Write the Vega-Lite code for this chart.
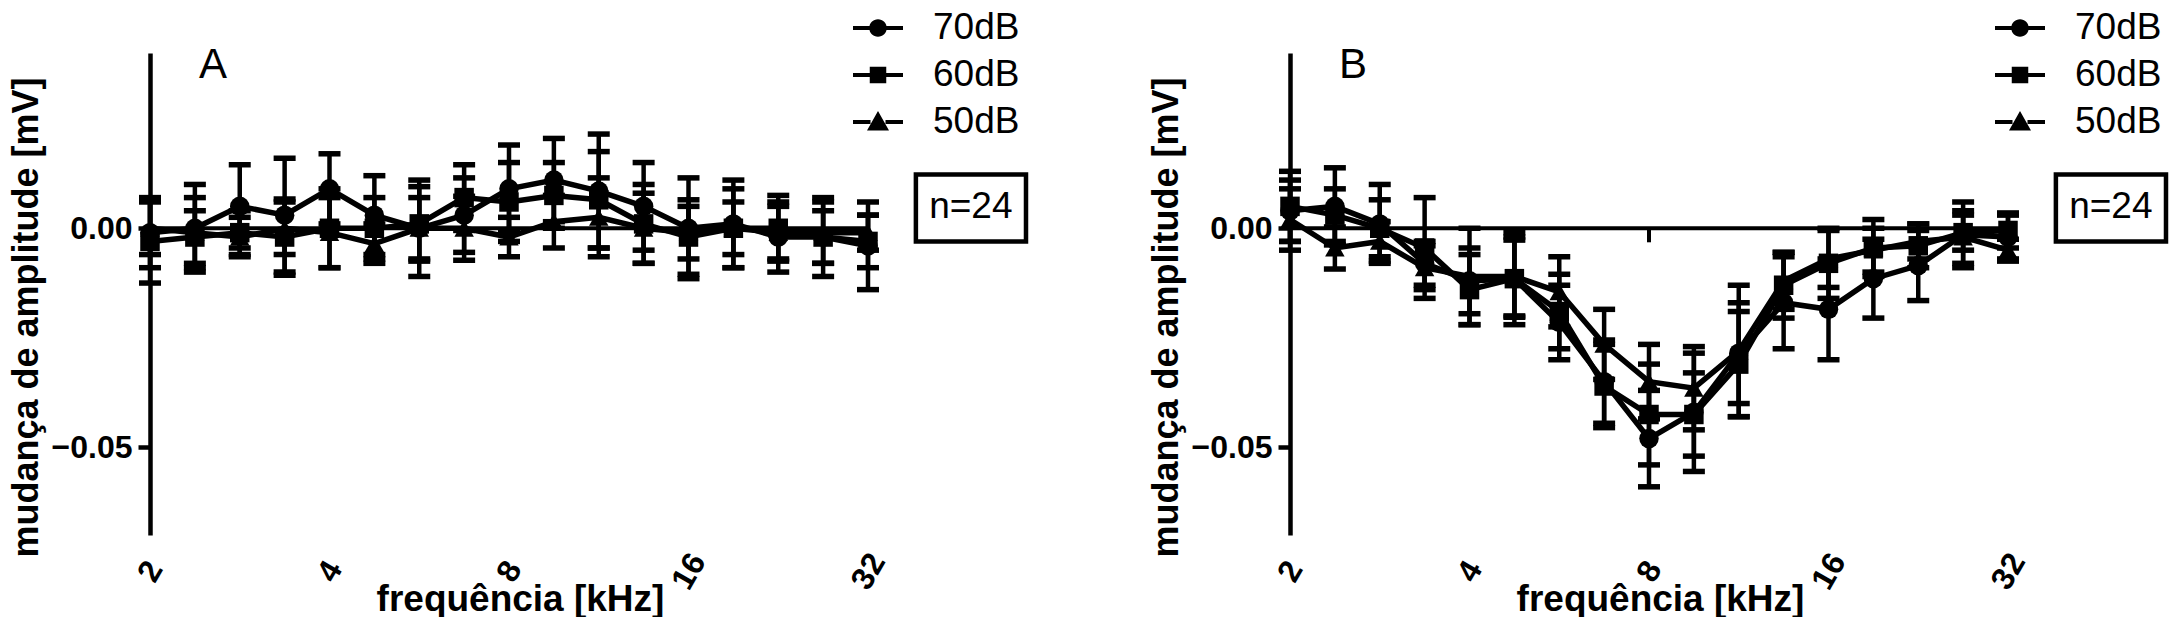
{
  "$schema": "https://vega.github.io/schema/vega-lite/v6.json",
  "background": "white",
  "padding": {"left": 8, "top": 3, "right": 5, "bottom": 0},
  "spacing": 119,
  "datasets": {
    "A": [
      {"f": 2, "s": "70dB", "v": -0.001, "e": 0.008}, {"f": 2, "s": "60dB", "v": -0.003, "e": 0.0095}, {"f": 2, "s": "50dB", "v": 0.0, "e": 0.006},
      {"f": 2.3784, "s": "70dB", "v": 0.0, "e": 0.010}, {"f": 2.3784, "s": "60dB", "v": -0.002, "e": 0.006}, {"f": 2.3784, "s": "50dB", "v": -0.001, "e": 0.008},
      {"f": 2.8284, "s": "70dB", "v": 0.005, "e": 0.0095}, {"f": 2.8284, "s": "60dB", "v": -0.001, "e": 0.005}, {"f": 2.8284, "s": "50dB", "v": -0.002, "e": 0.0045},
      {"f": 3.3636, "s": "70dB", "v": 0.003, "e": 0.013}, {"f": 3.3636, "s": "60dB", "v": -0.002, "e": 0.0087}, {"f": 3.3636, "s": "50dB", "v": 0.0, "e": 0.006},
      {"f": 4, "s": "70dB", "v": 0.009, "e": 0.008}, {"f": 4, "s": "60dB", "v": 0.0, "e": 0.009}, {"f": 4, "s": "50dB", "v": -0.001, "e": 0.008},
      {"f": 4.7568, "s": "70dB", "v": 0.003, "e": 0.009}, {"f": 4.7568, "s": "60dB", "v": 0.0, "e": 0.007}, {"f": 4.7568, "s": "50dB", "v": -0.0035, "e": 0.0045},
      {"f": 5.6569, "s": "70dB", "v": 0.0, "e": 0.011}, {"f": 5.6569, "s": "60dB", "v": 0.001, "e": 0.0085}, {"f": 5.6569, "s": "50dB", "v": 0.0, "e": 0.007},
      {"f": 6.7272, "s": "70dB", "v": 0.003, "e": 0.0085}, {"f": 6.7272, "s": "60dB", "v": 0.007, "e": 0.0075}, {"f": 6.7272, "s": "50dB", "v": 0.0, "e": 0.0073},
      {"f": 8, "s": "70dB", "v": 0.009, "e": 0.010}, {"f": 8, "s": "60dB", "v": 0.006, "e": 0.009}, {"f": 8, "s": "50dB", "v": -0.002, "e": 0.0045},
      {"f": 9.5137, "s": "70dB", "v": 0.011, "e": 0.0095}, {"f": 9.5137, "s": "60dB", "v": 0.0075, "e": 0.0075}, {"f": 9.5137, "s": "50dB", "v": 0.0015, "e": 0.006},
      {"f": 11.3137, "s": "70dB", "v": 0.0085, "e": 0.013}, {"f": 11.3137, "s": "60dB", "v": 0.0065, "e": 0.011}, {"f": 11.3137, "s": "50dB", "v": 0.0025, "e": 0.009},
      {"f": 13.4543, "s": "70dB", "v": 0.005, "e": 0.010}, {"f": 13.4543, "s": "60dB", "v": 0.001, "e": 0.009}, {"f": 13.4543, "s": "50dB", "v": 0.0, "e": 0.008},
      {"f": 16, "s": "70dB", "v": 0.0, "e": 0.0115}, {"f": 16, "s": "60dB", "v": -0.002, "e": 0.0085}, {"f": 16, "s": "50dB", "v": -0.001, "e": 0.006},
      {"f": 19.0273, "s": "70dB", "v": 0.001, "e": 0.010}, {"f": 19.0273, "s": "60dB", "v": 0.0, "e": 0.009}, {"f": 19.0273, "s": "50dB", "v": 0.0, "e": 0.006},
      {"f": 22.6274, "s": "70dB", "v": -0.002, "e": 0.008}, {"f": 22.6274, "s": "60dB", "v": 0.0, "e": 0.0075}, {"f": 22.6274, "s": "50dB", "v": -0.001, "e": 0.006},
      {"f": 26.9087, "s": "70dB", "v": -0.002, "e": 0.009}, {"f": 26.9087, "s": "60dB", "v": -0.002, "e": 0.006}, {"f": 26.9087, "s": "50dB", "v": -0.001, "e": 0.007},
      {"f": 32, "s": "70dB", "v": -0.004, "e": 0.010}, {"f": 32, "s": "60dB", "v": -0.003, "e": 0.006}, {"f": 32, "s": "50dB", "v": -0.001, "e": 0.004}
    ],
    "B": [
      {"f": 2, "s": "70dB", "v": 0.004, "e": 0.007}, {"f": 2, "s": "60dB", "v": 0.005, "e": 0.008}, {"f": 2, "s": "50dB", "v": 0.002, "e": 0.007},
      {"f": 2.3784, "s": "70dB", "v": 0.005, "e": 0.0088}, {"f": 2.3784, "s": "60dB", "v": 0.003, "e": 0.006}, {"f": 2.3784, "s": "50dB", "v": -0.0045, "e": 0.0048},
      {"f": 2.8284, "s": "70dB", "v": 0.001, "e": 0.009}, {"f": 2.8284, "s": "60dB", "v": 0.0, "e": 0.0065}, {"f": 2.8284, "s": "50dB", "v": -0.003, "e": 0.0045},
      {"f": 3.3636, "s": "70dB", "v": -0.008, "e": 0.005}, {"f": 3.3636, "s": "60dB", "v": -0.0045, "e": 0.0115}, {"f": 3.3636, "s": "50dB", "v": -0.009, "e": 0.005},
      {"f": 4, "s": "70dB", "v": -0.012, "e": 0.0075}, {"f": 4, "s": "60dB", "v": -0.014, "e": 0.008}, {"f": 4, "s": "50dB", "v": -0.011, "e": 0.011},
      {"f": 4.7568, "s": "70dB", "v": -0.0115, "e": 0.0088}, {"f": 4.7568, "s": "60dB", "v": -0.0115, "e": 0.0105}, {"f": 4.7568, "s": "50dB", "v": -0.011, "e": 0.009},
      {"f": 5.6569, "s": "70dB", "v": -0.0215, "e": 0.0085}, {"f": 5.6569, "s": "60dB", "v": -0.019, "e": 0.0085}, {"f": 5.6569, "s": "50dB", "v": -0.0145, "e": 0.008},
      {"f": 6.7272, "s": "70dB", "v": -0.035, "e": 0.0095}, {"f": 6.7272, "s": "60dB", "v": -0.036, "e": 0.0095}, {"f": 6.7272, "s": "50dB", "v": -0.0265, "e": 0.008},
      {"f": 8, "s": "70dB", "v": -0.048, "e": 0.011}, {"f": 8, "s": "60dB", "v": -0.0425, "e": 0.0115}, {"f": 8, "s": "50dB", "v": -0.035, "e": 0.0085},
      {"f": 9.5137, "s": "70dB", "v": -0.042, "e": 0.0135}, {"f": 9.5137, "s": "60dB", "v": -0.0425, "e": 0.0095}, {"f": 9.5137, "s": "50dB", "v": -0.0365, "e": 0.0095},
      {"f": 11.3137, "s": "70dB", "v": -0.0285, "e": 0.0115}, {"f": 11.3137, "s": "60dB", "v": -0.031, "e": 0.012}, {"f": 11.3137, "s": "50dB", "v": -0.028, "e": 0.015},
      {"f": 13.4543, "s": "70dB", "v": -0.017, "e": 0.0105}, {"f": 13.4543, "s": "60dB", "v": -0.013, "e": 0.0075}, {"f": 13.4543, "s": "50dB", "v": -0.012, "e": 0.0065},
      {"f": 16, "s": "70dB", "v": -0.0185, "e": 0.0115}, {"f": 16, "s": "60dB", "v": -0.008, "e": 0.008}, {"f": 16, "s": "50dB", "v": -0.007, "e": 0.0065},
      {"f": 19.0273, "s": "70dB", "v": -0.0115, "e": 0.009}, {"f": 19.0273, "s": "60dB", "v": -0.0045, "e": 0.0065}, {"f": 19.0273, "s": "50dB", "v": -0.005, "e": 0.005},
      {"f": 22.6274, "s": "70dB", "v": -0.0085, "e": 0.008}, {"f": 22.6274, "s": "60dB", "v": -0.004, "e": 0.005}, {"f": 22.6274, "s": "50dB", "v": -0.003, "e": 0.004},
      {"f": 26.9087, "s": "70dB", "v": -0.0015, "e": 0.0075}, {"f": 26.9087, "s": "60dB", "v": -0.001, "e": 0.004}, {"f": 26.9087, "s": "50dB", "v": -0.002, "e": 0.006},
      {"f": 32, "s": "70dB", "v": -0.002, "e": 0.005}, {"f": 32, "s": "60dB", "v": -0.0005, "e": 0.004}, {"f": 32, "s": "50dB", "v": -0.005, "e": 0.0025}
    ]
  },
  "hconcat": [
    {
      "width": 718, "height": 482,
      "data": {"name": "A"},
      "encoding": {
        "x": {"field": "f", "type": "quantitative",
          "scale": {"type": "log", "base": 2, "domain": [2, 32], "nice": false},
          "axis": {"values": [2, 4, 8, 16, 32], "format": "d", "domain": false, "ticks": false, "tickSize": 0, "grid": false,
            "labelAngle": -60, "labelAlign": "center", "labelBaseline": "middle", "labelPadding": 36, "labelFontSize": 32, "labelFontWeight": "bold",
            "labelColor": "black", "labelFlush": false, "labelOverlap": false,
            "title": "frequência  [kHz]", "titleFontSize": 37, "titleFontWeight": "bold", "titleColor": "black",
            "titleX": 370, "titleY": 46, "titleBaseline": "top", "titleAlign": "center"}},
        "y": {"field": "v", "type": "quantitative",
          "scale": {"domain": [-0.07, 0.04], "nice": false, "zero": false},
          "axis": {"values": [-0.05, 0], "format": ".2f", "grid": false, "domainColor": "black", "domainWidth": 4.5,
            "tickColor": "black", "tickWidth": 4.5, "tickSize": 12, "labelPadding": 6, "labelFontSize": 32, "labelFontWeight": "bold", "labelColor": "black",
            "title": "mudança de amplitude [mV]", "titleFontSize": 36, "titleFontWeight": "bold", "titleColor": "black", "titlePadding": 6, "titleY": 264}}
      },
      "layer": [
        {"data": {"values": [{"z": 0}]}, "mark": {"type": "rule", "color": "black", "strokeWidth": 4}, "encoding": {"y": {"field": "z", "type": "quantitative"}, "x": null}},
        {"mark": {"type": "line", "color": "black", "strokeWidth": 5.5}, "encoding": {"detail": {"field": "s"}}},
        {"mark": {"type": "errorbar", "color": "black", "opacity": 1, "ticks": {"size": 22, "thickness": 5.5, "opacity": 1, "color": "black"}, "rule": {"strokeWidth": 4.5, "opacity": 1, "color": "black"}}, "encoding": {"yError": {"field": "e"}}},
        {"layer": [
          {"mark": {"type": "point", "filled": true, "color": "black", "opacity": 1, "size": 380},
            "encoding": {"shape": {"field": "s", "type": "nominal",
              "scale": {"domain": ["70dB", "60dB", "50dB"], "range": ["circle", "square", "triangle-up"]}, "legend": null}}},
          {"mark": {"type": "point", "filled": true, "color": "black", "opacity": 0, "size": 380},
            "encoding": {"shape": {"field": "s", "type": "nominal",
              "scale": {"domain": ["70dB", "60dB", "50dB"], "range": [
                "M-1,-0.08H-0.3V0.08H-1ZM0.3,-0.08H1V0.08H0.3ZM0.35,0A0.35,0.35,0,1,1,-0.35,0A0.35,0.35,0,1,1,0.35,0Z",
                "M-1,-0.08H-0.3V0.08H-1ZM0.3,-0.08H1V0.08H0.3ZM-0.33,-0.33H0.33V0.33H-0.33Z",
                "M-1,-0.08H-0.3V0.08H-1ZM0.3,-0.08H1V0.08H0.3ZM0,-0.44L0.44,0.34H-0.44Z"]},
              "legend": {"orient": "none", "legendX": 703, "legendY": -50, "title": null, "padding": 0, "symbolSize": 2500, "symbolStrokeWidth": 0,
                "symbolFillColor": "black", "symbolOpacity": 1, "labelFontSize": 37, "labelColor": "black", "labelOffset": 30, "rowPadding": 4, "labelLimit": 0,
                "encode": {"symbols": {"update": {"opacity": {"value": 1}, "fill": {"value": "black"}}}}}}}}
          ],
          "resolve": {"scale": {"shape": "independent"}, "legend": {"shape": "independent"}}
        },
        {"data": {"values": [{"lab": "A", "fx": 2.55, "vy": 0.0372}]}, "mark": {"type": "text", "fontSize": 42, "color": "black", "align": "center", "baseline": "middle"},
          "encoding": {"x": {"field": "fx", "type": "quantitative"}, "y": {"field": "vy", "type": "quantitative"}, "text": {"field": "lab"}}},
        {"data": {"values": [{"x1": 38.5, "x2": 58.9, "y1": 0.0123, "y2": -0.003, "lab": "n=24", "fx": 47.6, "vy": 0.0048}]},
          "layer": [
            {"mark": {"type": "rect", "fill": null, "stroke": "black", "strokeWidth": 4.5},
              "encoding": {"x": {"field": "x1", "type": "quantitative"}, "x2": {"field": "x2"}, "y": {"field": "y1", "type": "quantitative"}, "y2": {"field": "y2"}}},
            {"mark": {"type": "text", "fontSize": 37, "color": "black", "align": "center", "baseline": "middle"},
              "encoding": {"x": {"field": "fx", "type": "quantitative"}, "y": {"field": "vy", "type": "quantitative"}, "text": {"field": "lab"}}}
          ]}
      ]
    },
    {
      "width": 718, "height": 482,
      "data": {"name": "B"},
      "encoding": {
        "x": {"field": "f", "type": "quantitative",
          "scale": {"type": "log", "base": 2, "domain": [2, 32], "nice": false},
          "axis": {"values": [2, 4, 8, 16, 32], "format": "d", "domain": false, "ticks": false, "tickSize": 0, "grid": false,
            "labelAngle": -60, "labelAlign": "center", "labelBaseline": "middle", "labelPadding": 36, "labelFontSize": 32, "labelFontWeight": "bold",
            "labelColor": "black", "labelFlush": false, "labelOverlap": false,
            "title": "frequência [kHz]", "titleFontSize": 37, "titleFontWeight": "bold", "titleColor": "black",
            "titleX": 370, "titleY": 46, "titleBaseline": "top", "titleAlign": "center"}},
        "y": {"field": "v", "type": "quantitative",
          "scale": {"domain": [-0.07, 0.04], "nice": false, "zero": false},
          "axis": {"values": [-0.05, 0], "format": ".2f", "grid": false, "domainColor": "black", "domainWidth": 4.5,
            "tickColor": "black", "tickWidth": 4.5, "tickSize": 12, "labelPadding": 6, "labelFontSize": 32, "labelFontWeight": "bold", "labelColor": "black",
            "title": "mudança de amplitude  [mV]", "titleFontSize": 36, "titleFontWeight": "bold", "titleColor": "black", "titlePadding": 6, "titleY": 264}}
      },
      "layer": [
        {"data": {"values": [{"z": 0}]}, "mark": {"type": "rule", "color": "black", "strokeWidth": 4}, "encoding": {"y": {"field": "z", "type": "quantitative"}, "x": null}},
        {"data": {"values": [{"tf": 8, "a": 0, "b": -0.0032}]}, "mark": {"type": "rule", "color": "black", "strokeWidth": 4},
          "encoding": {"x": {"field": "tf", "type": "quantitative"}, "y": {"field": "a", "type": "quantitative"}, "y2": {"field": "b"}}},
        {"mark": {"type": "line", "color": "black", "strokeWidth": 5.5}, "encoding": {"detail": {"field": "s"}}},
        {"mark": {"type": "errorbar", "color": "black", "opacity": 1, "ticks": {"size": 22, "thickness": 5.5, "opacity": 1, "color": "black"}, "rule": {"strokeWidth": 4.5, "opacity": 1, "color": "black"}}, "encoding": {"yError": {"field": "e"}}},
        {"layer": [
          {"mark": {"type": "point", "filled": true, "color": "black", "opacity": 1, "size": 380},
            "encoding": {"shape": {"field": "s", "type": "nominal",
              "scale": {"domain": ["70dB", "60dB", "50dB"], "range": ["circle", "square", "triangle-up"]}, "legend": null}}},
          {"mark": {"type": "point", "filled": true, "color": "black", "opacity": 0, "size": 380},
            "encoding": {"shape": {"field": "s", "type": "nominal",
              "scale": {"domain": ["70dB", "60dB", "50dB"], "range": [
                "M-1,-0.08H-0.3V0.08H-1ZM0.3,-0.08H1V0.08H0.3ZM0.35,0A0.35,0.35,0,1,1,-0.35,0A0.35,0.35,0,1,1,0.35,0Z",
                "M-1,-0.08H-0.3V0.08H-1ZM0.3,-0.08H1V0.08H0.3ZM-0.33,-0.33H0.33V0.33H-0.33Z",
                "M-1,-0.08H-0.3V0.08H-1ZM0.3,-0.08H1V0.08H0.3ZM0,-0.44L0.44,0.34H-0.44Z"]},
              "legend": {"orient": "none", "legendX": 705, "legendY": -50, "title": null, "padding": 0, "symbolSize": 2500, "symbolStrokeWidth": 0,
                "symbolFillColor": "black", "symbolOpacity": 1, "labelFontSize": 37, "labelColor": "black", "labelOffset": 30, "rowPadding": 4, "labelLimit": 0,
                "encode": {"symbols": {"update": {"opacity": {"value": 1}, "fill": {"value": "black"}}}}}}}}
          ],
          "resolve": {"scale": {"shape": "independent"}, "legend": {"shape": "independent"}}
        },
        {"data": {"values": [{"lab": "B", "fx": 2.55, "vy": 0.0372}]}, "mark": {"type": "text", "fontSize": 42, "color": "black", "align": "center", "baseline": "middle"},
          "encoding": {"x": {"field": "fx", "type": "quantitative"}, "y": {"field": "vy", "type": "quantitative"}, "text": {"field": "lab"}}},
        {"data": {"values": [{"x1": 38.5, "x2": 58.9, "y1": 0.0123, "y2": -0.003, "lab": "n=24", "fx": 47.6, "vy": 0.0048}]},
          "layer": [
            {"mark": {"type": "rect", "fill": null, "stroke": "black", "strokeWidth": 4.5},
              "encoding": {"x": {"field": "x1", "type": "quantitative"}, "x2": {"field": "x2"}, "y": {"field": "y1", "type": "quantitative"}, "y2": {"field": "y2"}}},
            {"mark": {"type": "text", "fontSize": 37, "color": "black", "align": "center", "baseline": "middle"},
              "encoding": {"x": {"field": "fx", "type": "quantitative"}, "y": {"field": "vy", "type": "quantitative"}, "text": {"field": "lab"}}}
          ]}
      ]
    }
  ],
  "resolve": {"scale": {"shape": "independent"}, "legend": {"shape": "independent"}},
  "config": {
    "font": "Liberation Sans",
    "view": {"stroke": null},
    "axis": {"labelFont": "Liberation Sans", "titleFont": "Liberation Sans"},
    "legend": {"labelFont": "Liberation Sans"}
  }
}
